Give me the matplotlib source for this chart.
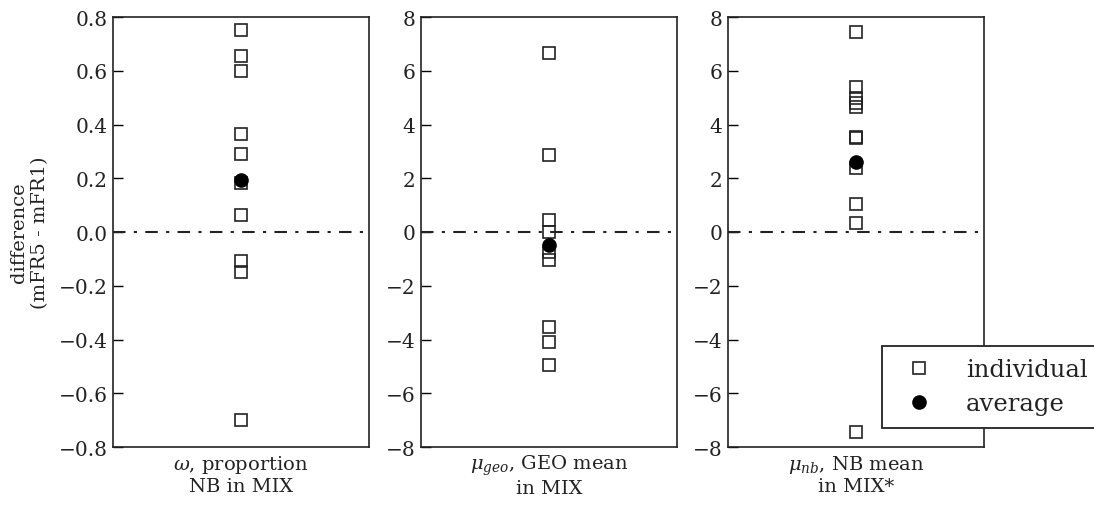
import numpy as np
import matplotlib
matplotlib.use("Agg")
import matplotlib.pyplot as plt
from matplotlib.lines import Line2D

plt.rcParams['font.family'] = ['DejaVu Serif']
plt.rcParams['mathtext.fontset'] = 'dejavuserif'

# individual differences (mFR5 - mFR1)
omega_vals = [0.75, 0.655, 0.60, 0.365, 0.29, 0.183, 0.065, -0.108, -0.15, -0.70]
omega_avg = 0.195

geo_vals = [6.67, 2.88, 0.45, 0.0, -0.75, -1.05, -3.53, -4.10, -4.96]
geo_avg = -0.5

nb_vals = [7.43, 5.40, 5.0, 4.80, 4.65, 3.55, 3.50, 2.38, 1.06, 0.34, -7.43]
nb_avg = 2.6

panel_labels = ['$\\omega$, proportion\nNB in MIX',
                '$\\mu_{geo}$, GEO mean\nin MIX',
                '$\\mu_{nb}$, NB mean\nin MIX*']
ylims = [0.8, 8, 8]
ystep = [0.2, 2, 2]
yfmt = ['{:.1f}', '{:.0f}', '{:.0f}']

fig = plt.figure(figsize=(10.94, 5.06), dpi=100)
lefts = [113, 421, 728]
axes = []
for l in lefts:
    ax = fig.add_axes([l / 1094, 58 / 506, 256 / 1094, 430 / 506])
    axes.append(ax)

data = [(omega_vals, omega_avg), (geo_vals, geo_avg), (nb_vals, nb_avg)]
for i, ax in enumerate(axes):
    vals, avg = data[i]
    ax.plot(np.zeros(len(vals)), vals, linestyle='none', marker='s', markersize=8.5,
            markerfacecolor='none', markeredgecolor='#222222', markeredgewidth=1.2)
    ax.plot([0], [avg], linestyle='none', marker='o', markersize=9.5,
            markerfacecolor='black', markeredgecolor='black')
    ax.axhline(0, color='#222222', linestyle='-.', linewidth=1.5, dashes=(6, 4, 1.5, 4))
    ax.set_xlim(-1, 1)
    lim = ylims[i]
    ax.set_ylim(-lim, lim)
    ticks = np.arange(-lim, lim + ystep[i] / 2, ystep[i])
    ax.set_yticks(ticks)
    ax.set_yticklabels([yfmt[i].format(t).replace('-', '\u2212') if abs(t) > 1e-9 else yfmt[i].format(0)
                        for t in ticks])
    ax.set_xticks([])
    ax.tick_params(axis='y', direction='in', length=7, width=1, pad=4, labelsize=14.5,
                   left=True, right=False, labelcolor='#222222')
    for s in ax.spines.values():
        s.set_linewidth(1.2)
        s.set_edgecolor('#222222')
    ax.set_xlabel(panel_labels[i], fontsize=14, labelpad=4, linespacing=1.15, color='#222222')

axes[0].set_ylabel('difference\n(mFR5 - mFR1)', fontsize=14, labelpad=7, linespacing=1.2,
                   color='#222222')

handles = [Line2D([], [], linestyle='none', marker='s', markersize=8.5,
                  markerfacecolor='none', markeredgecolor='#222222', markeredgewidth=1.2),
           Line2D([], [], linestyle='none', marker='o', markersize=9.5,
                  markerfacecolor='black', markeredgecolor='black')]
leg = fig.legend(handles, ['individual', 'average'], loc='upper left',
                 bbox_to_anchor=(881.7 / 1094, 1 - 346.7 / 506), fontsize=17.5,
                 numpoints=1, handlelength=2.0, handletextpad=0.95, labelspacing=0.45,
                 borderpad=0.52, borderaxespad=0, frameon=True, fancybox=False, framealpha=1)
leg.get_frame().set_edgecolor('#222222')
leg.get_frame().set_linewidth(1.3)
for t in leg.get_texts():
    t.set_color('#222222')

fig.savefig('out.png', dpi=100)
